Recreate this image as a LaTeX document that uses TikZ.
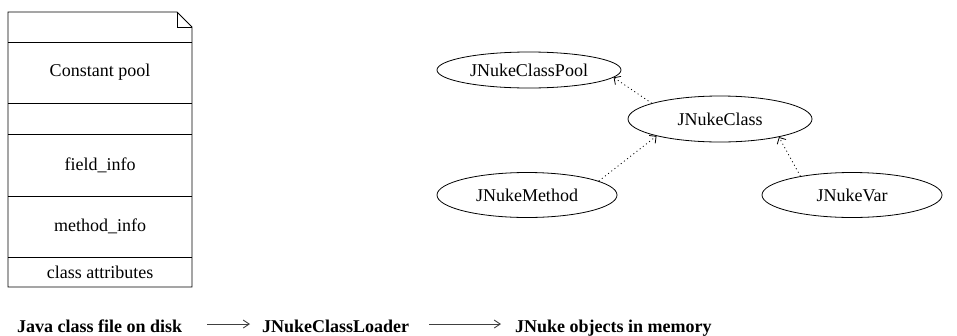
\documentclass[tikz,border=0pt]{standalone}
\usepackage{fontspec}
\setmainfont{Liberation Serif}
\usetikzlibrary{shapes.geometric,arrows.meta}
\begin{document}
\begin{tikzpicture}[x=1pt,y=-1pt,
  lbl/.style={font=\fontsize{18}{20}\selectfont, inner sep=0pt},
  obj/.style={ellipse, draw, line width=0.8pt, minimum width=184pt, inner sep=0pt, font=\fontsize{18}{20}\selectfont},
  dep/.style={line width=0.8pt, dash pattern=on 1pt off 3pt, -{Straight Barb[length=5pt,width=10pt]}},
  flow/.style={line width=0.9pt, draw=black!75, -{Straight Barb[length=6pt,width=8pt]}},
  boldlbl/.style={font=\fontsize{18}{20}\selectfont\bfseries, inner sep=0pt},
  docline/.style={line width=0.8pt}]
\useasboundingbox (0,0) rectangle (957,335);
% class file document
\draw[docline] (8,12) -- (177,12) -- (192,27) -- (192,287) -- (8,287) -- cycle;
\draw[docline] (177,12) -- (177,27) -- (192,27);
\draw[docline] (8,42) -- (192,42);
\draw[docline] (8,103) -- (192,103);
\draw[docline] (8,134) -- (192,134);
\draw[docline] (8,196) -- (192,196);
\draw[docline] (8,257) -- (192,257);
\node[lbl] (cp) at (100,72) {Constant pool};
\node[lbl] (fi) at (100,165) {field\_info};
\node[lbl] (mi) at (100,226) {method\_info};
\node[lbl] (ca) at (100,272) {class attributes};
% objects
\node[obj, minimum height=36pt] (pool) at (529,70) {JNukeClassPool};
\node[obj, minimum height=46pt] (cls) at (720,119) {JNukeClass};
\node[obj, minimum width=180pt, minimum height=45pt] (meth) at (527,195) {JNukeMethod};
\node[obj, minimum width=180pt, minimum height=45pt] (var) at (852,195) {JNukeVar};
\draw[dep] (cls.167) -- (pool.-5);
\draw[dep] (meth.11) -- (cls.-165);
\draw[dep] (var.160) -- (cls.-17);
% bottom flow
\node[boldlbl, anchor=base west] (disk) at (17,332) {Java class file on disk};
\node[boldlbl, anchor=base west] (loader) at (262,332) {JNukeClassLoader};
\node[boldlbl, anchor=base west] (mem) at (515,332) {JNuke objects in memory};
\draw[flow, shorten <=25pt, shorten >=12pt] ([yshift=8pt]disk.base east) -- ([yshift=8pt]loader.base west);
\draw[flow, shorten <=20pt, shorten >=14pt] ([yshift=8pt]loader.base east) -- ([yshift=8pt]mem.base west);
\end{tikzpicture}
\end{document}
